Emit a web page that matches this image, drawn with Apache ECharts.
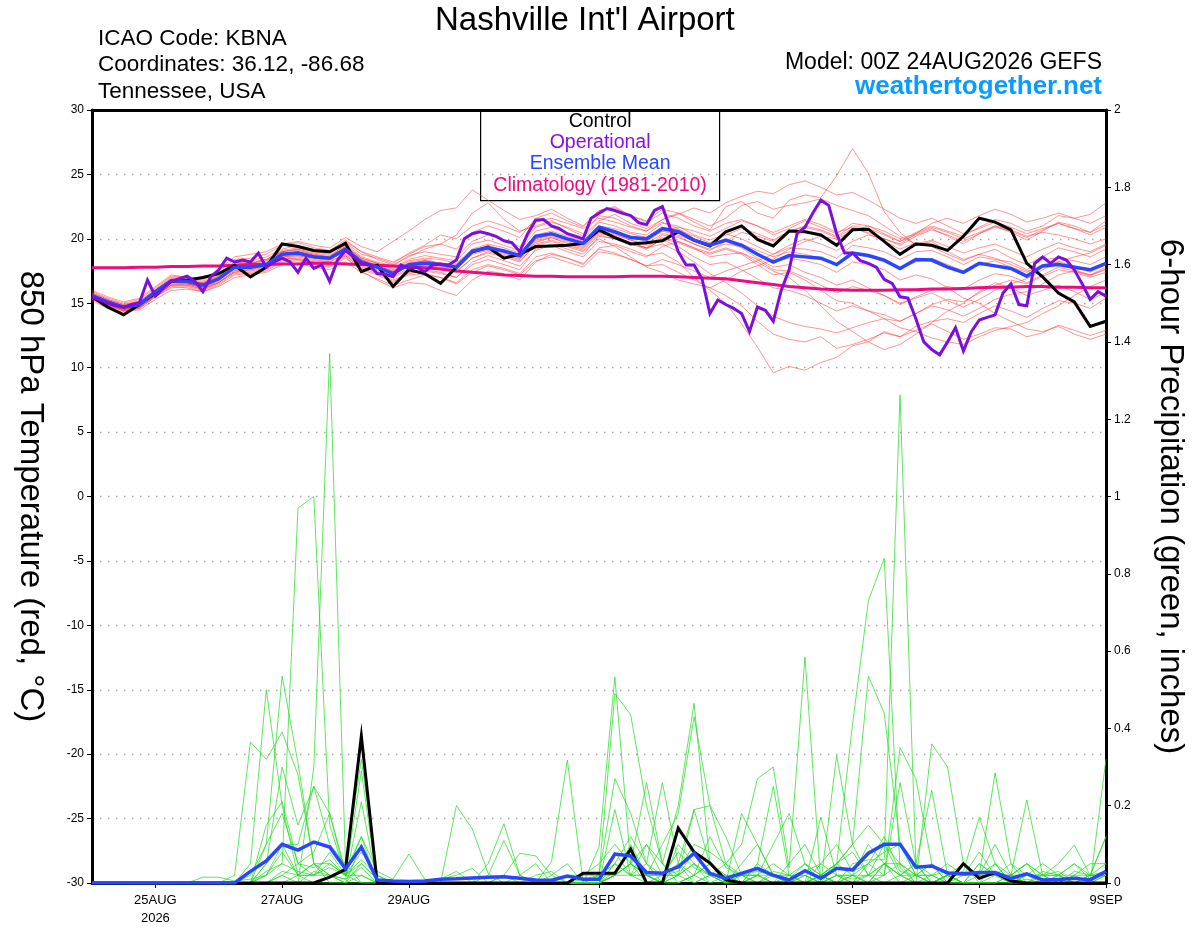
<!DOCTYPE html>
<html>
<head>
<meta charset="utf-8">
<title>Nashville Int'l Airport - GEFS</title>
<script src="https://cdn.jsdelivr.net/npm/echarts@6/dist/echarts.min.js"></script>
<style>
  html, body { margin: 0; padding: 0; background: #fff; }
  #chart { width: 1200px; height: 927px; }
</style>
</head>
<body>
<div id="chart"></div>
<script>
// x axis: forecast hour from 00Z 24AUG2026, 6-hourly (ensemble) and 3-hourly (operational)
var tickHours = [24, 72, 120, 192, 240, 288, 336, 384];
var tickLabels = ['25AUG\n2026', '27AUG', '29AUG', '1SEP', '3SEP', '5SEP', '7SEP', '9SEP'];

// 850 hPa temperature (C), 6-hourly
var climatology = [17.75,17.75,17.75,17.8, 17.8,17.85,17.85,17.9, 17.9,17.95,18.0,18.0, 18.05,18.05,18.1,18.1,
  18.05,18.0,17.95,17.9, 17.85,17.75,17.65,17.5, 17.4,17.3,17.2,17.15, 17.1,17.1,17.05,17.05,
  17.05,17.05,17.1,17.1, 17.1,17.05,17.0,16.95, 16.9,16.75,16.6,16.45, 16.3,16.2,16.1,16.05,
  16.0,16.0,16.0,16.05, 16.05,16.1,16.1,16.15, 16.2,16.25,16.25,16.3, 16.3,16.25,16.25,16.2, 16.2];
var controlT = [15.5,14.7,14.1,14.9, 15.8,16.7,16.8,17.0, 17.3,17.95,17.05,17.8, 19.6,19.4,19.1,19.0,
  19.65,17.45,17.95,16.3, 17.6,17.3,16.55,17.8, 19.0,19.35,18.5,18.8, 19.4,19.45,19.5,19.65,
  20.7,20.1,19.6,19.7, 19.85,20.55,19.9,19.45, 20.55,21.0,19.95,19.45, 20.6,20.55,20.3,19.5,
  20.7,20.75,19.8,18.8, 19.6,19.5,19.1,20.2, 21.6,21.3,20.7,18.1, 17.05,15.8,15.1,13.2, 13.6];
var meanT = [15.6,15.1,14.7,14.9, 15.9,16.75,16.7,16.4, 16.9,17.8,17.8,18.0, 18.8,18.9,18.6,18.5,
  19.2,18.2,17.8,17.3, 18.0,18.1,18.0,17.8, 19.05,19.3,19.05,18.7, 20.2,20.4,20.0,19.65,
  20.9,20.55,20.1,20.0, 20.8,20.55,19.9,19.5, 19.9,19.5,18.8,18.2, 18.7,18.6,18.5,18.0,
  18.9,18.7,18.35,17.7, 18.4,18.35,17.8,17.4, 18.1,17.9,17.7,17.1, 17.9,18.0,17.8,17.6, 18.1];
// operational run, 3-hourly
var operT = [15.5,15.25,15.0,14.8, 14.7,14.9,15.05,16.8, 15.55,16.15,16.7,16.9, 17.1,16.7,15.9,17.05,
  17.6,18.5,18.2,18.35, 18.2,18.9,17.8,18.2, 18.5,18.2,17.4,18.5, 17.7,17.97,16.7,18.35,
  19.1,18.6,18.1,17.97, 17.3,17.25,17.06,17.97, 17.7,17.8,17.45,17.97, 18.05,17.97,18.35,20.0,
  20.4,20.55,20.4,20.2, 19.85,19.7,19.0,20.4, 21.45,21.5,21.0,20.8, 20.4,20.2,20.0,21.6,
  21.98,22.35,22.2,21.98, 21.8,21.25,21.1,22.2, 22.5,20.8,19.0,17.97, 17.97,16.9,14.2,15.25,
  14.9,14.6,14.2,12.8, 14.7,14.45,13.6,16.0, 17.6,20.4,20.9,22.0, 23.0,22.6,20.4,18.9,
  18.9,18.3,18.1,17.8, 16.85,16.55,15.5,15.4, 13.8,12.0,11.4,11.0, 12.0,13.1,11.3,12.8,
  13.7,13.9,14.1,15.8, 16.5,14.9,14.8,18.1, 18.6,18.1,18.6,18.35, 17.6,16.5,15.3,15.9, 15.55];

// ensemble members, temperature
var t01 = [15.8,15.3,14.9,15.2, 16.0,16.9,16.8,16.6, 17.2,18.1,18.3,18.6, 19.2,19.5,19.0,18.9, 19.8,19.0,18.4,18.0, 18.6,19.2,19.6,20.3, 22.0,22.8,21.5,20.6, 21.0,21.4,20.8,20.2, 21.4,21.9,21.2,20.8, 21.5,22.0,21.3,20.7, 22.5,22.9,22.0,21.6, 23.0,23.4,23.2,24.9, 27.0,25.1,22.1,20.5, 19.5,19.8,19.0,18.4, 18.8,19.2,18.5,18.0, 18.6,19.3,19.0,18.6, 19.2];
var t02 = [15.4,14.9,14.5,14.7, 15.6,16.4,16.5,16.2, 16.7,17.4,17.6,17.9, 18.5,18.4,18.2,18.0, 18.7,17.8,17.4,16.8, 17.3,17.6,17.4,17.0, 18.2,18.7,18.3,17.9, 19.1,19.5,19.0,18.6, 19.8,19.6,19.2,18.7, 18.9,18.2,17.0,16.0, 15.0,13.4,11.6,9.6, 10.1,9.8,10.4,10.8, 11.7,12.0,12.8,12.4, 13.2,13.6,13.8,13.5, 14.2,14.8,14.4,13.9, 14.6,15.2,15.0,14.6, 15.4];
var t03 = [15.2,14.6,14.3,14.5, 15.3,16.0,16.1,15.9, 16.3,17.0,17.2,17.4, 18.0,18.1,17.8,17.6, 18.2,17.4,16.9,16.4, 16.8,17.2,17.0,16.5, 17.4,17.9,17.6,17.2, 18.3,18.6,18.2,17.8, 19.0,18.8,18.4,17.9, 18.0,17.4,16.8,16.2, 15.6,14.8,13.6,12.6, 12.2,12.0,12.4,11.5, 11.8,12.2,12.7,12.4, 12.9,13.4,12.8,12.2, 12.6,13.1,13.0,12.4, 12.7,13.3,12.9,12.5, 12.9];
var t04 = [16.0,15.5,15.1,15.4, 16.3,17.2,17.0,16.9, 17.6,18.6,18.8,19.0, 19.6,19.8,19.5,19.3, 20.1,19.4,19.0,19.8, 20.6,21.5,22.2,22.4, 23.8,23.0,22.2,21.5, 21.8,22.3,21.6,21.0, 22.2,22.5,21.8,21.3, 22.0,21.6,21.0,20.6, 21.2,21.5,21.0,20.3, 20.8,21.4,20.9,20.4, 21.2,21.0,20.4,19.8, 20.3,20.8,20.2,19.6, 20.4,21.0,20.5,19.9, 20.6,21.3,21.0,20.5, 21.4];
var t05 = [15.7,15.2,14.8,15.1, 16.1,17.0,16.9,16.7, 17.3,18.2,18.1,18.4, 19.0,19.2,18.9,18.7, 19.5,18.5,18.1,17.7, 18.4,18.7,18.5,18.3, 19.6,19.9,19.5,19.1, 20.6,20.9,20.4,20.0, 21.3,21.0,20.5,20.3, 21.2,21.0,20.3,19.9, 20.4,20.0,19.4,18.8, 19.3,19.2,19.0,18.5, 19.5,19.3,19.0,18.4, 19.0,19.1,18.6,18.0, 18.6,18.4,18.2,17.6, 18.4,18.5,18.3,18.0, 18.6];
var t06 = [15.3,14.8,14.4,14.6, 15.5,16.3,16.2,15.9, 16.4,17.2,17.3,17.5, 18.2,18.3,18.0,17.8, 18.5,17.6,17.2,16.6, 17.4,17.5,17.3,17.0, 18.0,18.4,18.0,17.6, 19.2,19.6,19.2,18.8, 20.2,20.0,19.6,19.3, 20.3,20.1,19.6,19.1, 19.8,20.5,20.2,19.8, 20.6,21.0,20.7,20.2, 21.0,20.8,20.3,19.8, 20.5,21.0,20.6,20.2, 20.9,21.5,21.2,20.6, 21.0,21.8,21.6,21.9, 22.8];
var t07 = [15.5,15.0,14.6,14.8, 15.8,16.6,16.6,16.3, 16.8,17.7,17.8,18.0, 18.7,18.8,18.5,18.4, 19.0,18.1,17.7,17.2, 17.9,18.1,17.9,17.6, 18.8,19.1,18.8,18.4, 19.8,20.1,19.7,19.3, 20.5,20.3,19.9,19.6, 20.4,20.2,19.6,19.2, 19.6,19.4,18.8,18.2, 18.5,18.3,18.0,17.4, 18.2,18.0,17.6,16.8, 17.2,16.9,16.2,15.4, 15.0,14.2,13.6,13.0, 12.8,13.2,12.6,12.2, 12.6];
var t08 = [15.9,15.4,15.0,15.3, 16.2,17.1,17.0,16.8, 17.5,18.4,18.5,18.8, 19.5,19.7,19.3,19.1, 19.9,19.0,18.6,18.2, 18.8,19.4,19.6,19.2, 20.5,21.0,20.6,20.1, 21.6,22.0,21.4,20.9, 22.2,22.4,21.8,21.4, 22.3,22.0,21.5,21.0, 21.6,22.6,22.9,22.3, 22.6,22.8,23.1,22.6, 22.2,21.8,21.0,20.2, 19.6,19.9,19.4,18.9, 19.3,19.6,19.1,18.6, 19.2,19.7,19.3,19.0, 19.6];
var t09 = [15.6,15.1,14.7,14.9, 15.9,16.7,16.6,16.4, 16.9,17.9,18.0,18.2, 18.9,19.0,18.7,18.5, 19.3,18.3,17.9,17.4, 18.1,18.3,18.0,17.7, 18.9,19.3,19.0,18.5, 19.9,20.2,19.8,19.4, 20.5,20.2,19.7,19.3, 19.9,19.4,18.6,18.0, 18.2,17.6,16.9,16.2, 16.0,15.6,15.0,14.4, 14.8,14.4,14.1,13.6, 14.2,14.8,14.5,14.0, 14.6,15.3,15.7,15.9, 16.5,17.2,17.5,17.2, 17.8];
var t10 = [15.4,14.9,14.4,14.6, 15.5,16.2,16.3,16.0, 16.5,17.3,17.4,17.6, 18.3,18.4,18.1,17.9, 18.6,17.5,16.8,16.2, 16.6,16.5,16.0,15.6, 16.8,17.5,17.3,16.8, 18.2,18.8,18.5,18.0, 19.3,19.5,19.0,18.6, 19.4,19.8,19.3,18.6, 18.8,18.9,18.4,17.6, 17.5,17.0,16.4,15.8, 16.3,16.0,15.6,14.9, 15.5,16.0,16.3,16.1, 16.8,17.3,17.1,16.6, 17.2,17.8,17.5,17.1, 17.7];
var t11 = [15.8,15.3,14.9,15.1, 16.0,16.8,16.7,16.6, 17.1,18.0,18.2,18.4, 19.1,19.3,19.0,18.8, 19.7,18.8,18.5,18.1, 18.9,19.5,20.3,20.0, 21.0,21.4,21.0,20.5, 21.3,21.6,21.2,20.8, 21.6,21.3,20.9,20.6, 21.5,21.9,22.4,22.0, 22.8,23.3,23.7,23.5, 24.2,24.5,24.0,23.4, 23.6,23.0,22.3,21.6, 21.2,21.6,21.0,20.4, 20.8,21.3,20.9,20.4, 20.8,21.2,20.8,20.5, 21.1];
var t12 = [15.5,15.0,14.6,14.9, 15.7,16.5,16.5,16.2, 16.6,17.5,17.6,17.8, 18.5,18.6,18.3,18.2, 18.8,17.9,17.5,17.0, 17.6,17.9,17.7,17.4, 18.5,18.9,18.6,18.2, 19.6,19.9,19.5,19.1, 20.3,20.0,19.6,19.2, 20.0,19.7,19.2,18.8, 19.2,18.8,18.0,17.2, 17.4,16.8,16.0,15.2, 15.0,14.4,13.8,13.1, 12.8,12.3,12.0,11.8, 12.4,12.9,13.2,13.5, 14.2,14.8,15.6,16.3, 16.8];
var t13 = [15.6,15.1,14.6,14.9, 15.9,16.8,16.7,16.5, 17.0,17.9,18.0,18.1, 18.8,19.0,18.7,18.6, 19.4,18.4,18.0,17.5, 18.2,18.4,18.1,18.0, 19.1,19.5,19.1,18.8, 20.1,20.4,20.0,19.6, 20.8,20.6,20.2,19.9, 20.6,20.3,19.8,19.4, 19.9,19.6,19.1,18.6, 19.0,18.8,18.5,18.0, 18.8,18.6,18.2,17.7, 18.2,18.5,18.0,17.5, 18.0,18.3,17.8,17.4, 18.0,18.2,17.9,17.4, 18.0];
var t14 = [15.3,14.8,14.4,14.7, 15.6,16.4,16.4,16.1, 16.6,17.5,17.7,17.9, 18.6,18.7,18.4,18.2, 18.9,18.0,17.6,17.1, 17.7,18.0,17.8,17.5, 18.5,19.0,18.7,18.3, 19.5,19.8,19.4,19.0, 20.0,19.4,18.6,17.8, 17.4,16.8,16.5,16.2, 16.8,17.5,17.9,18.4, 19.2,19.8,20.2,20.0, 20.6,21.0,20.6,20.0, 20.4,20.9,20.5,20.0, 20.5,21.0,20.7,20.2, 20.5,20.3,20.0,19.6, 20.0];
var t15 = [15.4,14.9,14.5,14.8, 15.7,16.6,16.5,16.3, 16.8,17.6,17.8,17.9, 18.6,18.7,18.5,18.3, 19.1,18.2,17.8,17.3, 17.9,18.2,18.1,17.9, 18.9,19.2,18.9,18.5, 19.7,20.1,19.6,19.2, 20.4,20.2,19.7,19.3, 19.6,19.0,18.2,17.3, 16.6,15.8,14.8,14.0, 13.5,13.2,13.0,12.7, 13.1,13.5,13.8,13.6, 14.2,14.9,15.3,15.1, 15.8,16.4,16.8,16.5, 17.1,17.6,17.4,17.0, 17.4];
var t16 = [15.7,15.2,14.8,15.0, 16.0,16.9,16.8,16.5, 17.1,18.0,18.1,18.3, 19.0,19.1,18.8,18.6, 19.4,18.5,18.1,17.6, 18.3,18.5,18.4,18.1, 19.2,19.6,19.3,18.9, 20.3,20.6,20.2,19.8, 21.0,20.8,20.4,20.1, 20.9,20.7,20.2,19.7, 20.3,20.8,20.4,19.9, 20.6,20.9,20.6,20.1, 20.8,20.5,20.0,19.6, 20.4,21.2,21.6,21.2, 21.8,22.3,21.9,21.3, 21.6,22.0,21.6,21.2, 21.8];
var t17 = [15.6,15.0,14.6,14.8, 15.8,16.7,16.7,16.4, 17.0,17.9,18.1,18.3, 19.0,19.2,18.8,18.6, 19.6,18.6,18.2,17.9, 18.7,19.0,18.8,18.6, 19.8,20.3,19.9,19.4, 20.9,21.3,20.9,20.4, 21.8,21.6,21.0,20.6, 21.3,20.8,20.0,19.4, 19.8,19.3,18.5,17.8, 18.0,17.4,17.0,16.4, 16.8,16.2,15.6,15.0, 15.4,15.8,15.2,14.7, 15.3,16.0,16.5,16.9, 17.6,18.2,18.6,18.9, 19.5];
var t18 = [15.4,14.9,14.5,14.7, 15.6,16.4,16.4,16.1, 16.6,17.4,17.5,17.7, 18.4,18.5,18.2,18.0, 18.7,17.7,17.3,16.7, 17.2,17.3,17.0,16.6, 17.6,18.0,17.7,17.3, 18.6,18.9,18.5,18.1, 19.2,18.9,18.4,17.9, 18.4,18.0,17.5,17.0, 17.5,17.9,18.3,18.8, 19.5,20.0,19.6,19.1, 19.8,20.3,20.0,19.5, 20.2,20.7,20.3,19.8, 20.4,20.9,20.6,20.1, 20.7,21.2,20.8,20.3, 20.9];
var t19 = [15.5,15.0,14.5,14.8, 15.7,16.6,16.6,16.3, 16.8,17.7,17.9,18.1, 18.7,18.9,18.6,18.4, 19.2,18.3,17.9,17.4, 18.0,18.3,18.1,17.8, 19.0,19.4,19.1,18.6, 20.0,20.3,19.9,19.5, 20.6,20.4,19.9,19.5, 20.1,19.8,19.3,18.9, 19.3,18.9,18.2,17.5, 17.0,16.0,14.8,13.6, 12.8,12.0,11.4,11.8, 12.6,13.5,14.4,15.0, 15.9,16.6,16.2,15.6, 16.0,16.4,15.9,15.3, 15.8];
var t20 = [15.6,15.1,14.7,15.0, 15.9,16.8,16.8,16.5, 17.0,17.8,17.9,18.1, 18.8,19.0,18.7,18.5, 19.3,18.4,17.9,17.5, 18.1,18.3,18.1,17.8, 19.0,19.3,19.0,18.6, 20.0,20.4,20.0,19.6, 20.7,20.5,20.1,19.8, 20.6,20.9,20.6,20.2, 20.8,21.4,21.0,20.5, 21.0,21.5,21.1,20.5, 20.9,20.4,19.8,19.2, 19.7,19.4,18.8,18.3, 18.8,18.5,18.0,17.5, 17.8,18.1,17.6,17.2, 17.6];

// 6-hour precipitation (inches), 6-hourly
var controlP = [0,0,0,0, 0,0,0,0, 0,0,0,0, 0,0,0,0.015, 0.035,0.38,0,0, 0,0,0,0, 0,0,0,0, 0,0,0,0.025,
  0.025,0.025,0.088,0, 0,0.142,0.08,0.052, 0.008,0,0,0, 0,0,0,0, 0,0,0,0, 0,0,0,0.05, 0.012,0.027,0.005,0, 0,0,0,0, 0];
var meanP = [0,0,0,0, 0,0,0,0, 0,0,0.03,0.057, 0.10,0.085,0.106,0.093, 0.037,0.093,0.008,0.005, 0.004,0.005,0.01,0.011,
  0.013,0.015,0.016,0.012, 0.008,0.007,0.018,0.01, 0.01,0.075,0.07,0.027, 0.025,0.042,0.077,0.025,
  0.012,0.025,0.038,0.02, 0.008,0.032,0.012,0.038, 0.034,0.077,0.10,0.10, 0.041,0.044,0.026,0.024,
  0.027,0.027,0.012,0.024, 0.008,0.009,0.012,0.008, 0.03];

// ensemble members, precipitation
var p01 = [0,0,0,0, 0,0,0,0, 0,0.02,0.365,0.32, 0.39,0.28,0.05,0.02, 0,0.05,0.01,0, 0,0,0,0.2, 0.14,0.025,0,0, 0,0,0,0.01, 0.02,0.27,0.18,0.05, 0,0.02,0.19,0.2, 0.12,0.02,0,0, 0.01,0.05,0,0.33, 0.1,0.02,0,0.02, 0,0.36,0.3,0.05, 0,0.02,0.01,0, 0,0,0,0, 0.02];
var p02 = [0,0,0,0, 0,0,0,0, 0,0,0.05,0.5, 0.2,0.02,0,0, 0,0.02,0,0, 0,0,0.01,0.03, 0,0,0,0, 0,0.02,0.05,0, 0.093,0.533,0.05,0, 0,0,0.02,0.05, 0,0,0.02,0, 0,0.02,0,0.05, 0.41,0.73,0.84,0.04, 0,0.02,0,0, 0.05,0.02,0,0, 0,0.01,0,0, 0];
var p03 = [0,0,0,0, 0,0,0,0, 0,0,0,0.1, 0.535,0.31,0.05,0, 0,0,0,0, 0,0,0,0, 0,0,0.02,0, 0,0,0,0, 0,0.05,0.02,0.1, 0.05,0.2,0.465,0.05, 0,0,0,0.02, 0,0,0.02,0, 0.05,0.06,0.06,1.263, 0.05,0,0.02,0, 0,0,0,0.01, 0,0,0,0, 0];
var p04 = [0,0,0,0, 0,0,0,0, 0,0,0,0.02, 0.05,0.97,1.0,0.15, 0.02,0,0,0, 0,0,0,0, 0,0,0,0, 0.02,0.03,0,0, 0.02,0.49,0.435,0.2, 0.05,0,0.02,0, 0,0,0.05,0.02, 0,0,0.02,0.05, 0.1,0.535,0.44,0.1, 0.02,0,0,0, 0,0,0,0, 0,0,0.02,0, 0];
var p05 = [0,0,0,0, 0,0,0,0, 0,0,0,0, 0,0,0.3,1.37, 0.05,0,0,0, 0,0,0,0, 0,0,0,0, 0,0.055,0.318,0, 0,0.02,0.05,0.02, 0.1,0.18,0.43,0.2, 0.05,0,0,0, 0.02,0.05,0.02,0, 0,0.05,0.02,0.35, 0.27,0.05,0,0, 0,0,0.02,0.215, 0.02,0,0,0, 0];
var p06 = [0,0,0,0, 0,0,0,0, 0,0,0,0.05, 0.30,0.15,0.25,0.10, 0.05,0.32,0.02,0, 0,0,0,0, 0,0.05,0.153,0.02, 0,0,0,0, 0,0.02,0.05,0.26, 0.05,0.02,0,0.02, 0.05,0.1,0.27,0.30, 0.04,0.585,0,0.02, 0,0,0.02,0.05, 0,0,0.02,0, 0,0.05,0,0, 0,0,0,0.02, 0.12];
var p07 = [0,0,0,0, 0,0,0,0, 0,0,0,0.15, 0.21,0.05,0.08,0.18, 0.02,0.29,0,0, 0,0,0,0, 0,0,0.02,0.077, 0.07,0.02,0,0, 0,0.19,0.02,0.05, 0.26,0.05,0,0.02, 0,0.18,0.1,0.02, 0.02,0,0.17,0.02, 0,0.02,0.02,0.26, 0.05,0.24,0.02,0, 0,0,0.02,0, 0.03,0.02,0,0, 0.32];
var p08 = [0,0,0,0, 0,0,0,0.015, 0.015,0.005,0.01,0.02, 0.1,0.02,0.05,0.05, 0.02,0.12,0.03,0.01, 0.075,0.01,0,0, 0,0.02,0.11,0.02, 0,0,0,0, 0.02,0.02,0.1,0.02, 0,0.05,0.02,0.05, 0.02,0,0.02,0.1, 0.18,0.05,0.02,0, 0.02,0,0.05,0.02, 0,0,0.02,0.03, 0.17,0.05,0,0.02, 0.02,0.05,0.098,0.02, 0.05];
var p09 = [0,0,0,0, 0,0,0,0, 0,0,0,0.02, 0.08,0.02,0.05,0.02, 0,0.1,0,0, 0,0,0.01,0.02, 0.038,0,0,0, 0,0,0,0, 0,0.05,0.02,0.02, 0,0.1,0.05,0, 0.02,0,0.05,0.25, 0.02,0,0.02,0.05, 0.02,0.1,0.05,0, 0.02,0.05,0,0.05, 0.02,0.285,0.05,0, 0,0.02,0.05,0.01, 0.02];
var p10 = [0,0,0,0, 0,0,0,0, 0,0,0,0, 0.03,0.02,0.02,0.05, 0.02,0.05,0.01,0, 0,0,0,0, 0,0,0,0, 0,0,0.02,0.02, 0.05,0.1,0.05,0.02, 0.02,0.02,0.08,0.02, 0,0.02,0.02,0.02, 0,0,0.02,0.05, 0.1,0.15,0.1,0.05, 0.02,0.02,0.05,0.02, 0.02,0.05,0.02,0.02, 0,0,0.02,0.05, 0.05];
var p11 = [0,0,0,0, 0,0,0,0, 0,0,0,0.05, 0.1,0.1,0.25,0.18, 0.03,0.12,0,0, 0,0,0,0, 0,0,0,0.02, 0.05,0,0,0, 0,0.02,0.05,0.1, 0.02,0.05,0.19,0.05, 0.02,0,0.02,0, 0.05,0.1,0.02,0.05, 0.08,0.02,0.1,0.02, 0.05,0,0.02,0, 0.05,0.02,0.02,0.05, 0.02,0.02,0.05,0.02, 0.02];
var p12 = [0,0,0,0, 0,0,0,0, 0,0,0.02,0.1, 0.18,0.05,0.02,0.02, 0.01,0.04,0,0, 0,0,0,0, 0,0,0,0, 0,0,0,0.02, 0.02,0.05,0.12,0.05, 0.02,0.02,0.05,0.02, 0,0.05,0.1,0.02, 0,0.03,0.05,0.02, 0.02,0.05,0.12,0.03, 0.02,0.05,0.02,0, 0.02,0.02,0,0.02, 0.05,0.02,0,0, 0.02];
var p13 = [0,0,0,0, 0,0,0,0, 0,0,0,0, 0.02,0.05,0.04,0.06, 0.02,0.08,0.02,0, 0,0,0,0, 0,0,0,0, 0,0,0,0, 0,0.08,0.02,0, 0.02,0.03,0.1,0.08, 0.05,0.02,0,0.03, 0.02,0,0.05,0.1, 0.03,0.05,0.08,0.1, 0.02,0.02,0,0.02, 0.08,0.02,0.02,0, 0.02,0.03,0,0.02, 0.02];
var p14 = [0,0,0,0, 0,0,0,0, 0,0,0,0.03, 0.05,0.03,0.02,0.08, 0.02,0.02,0,0, 0,0,0,0, 0,0,0,0, 0,0,0,0, 0,0.03,0.08,0.02, 0,0,0.02,0.12, 0.04,0.02,0.03,0.02, 0,0.02,0,0.02, 0.02,0.02,0.05,0.02, 0.05,0.02,0.03,0.02, 0.02,0.1,0.02,0.05, 0.02,0,0.03,0.02, 0.03];
var p15 = [0,0,0,0, 0,0,0,0, 0,0,0,0, 0,0.02,0.02,0.04, 0.02,0.06,0.02,0, 0,0,0,0, 0,0,0,0, 0,0,0,0, 0,0.02,0.05,0.02, 0.02,0.08,0.04,0.02, 0,0.02,0.02,0.05, 0.02,0.02,0,0.02, 0.01,0.02,0.05,0.05, 0.02,0,0.02,0.05, 0.02,0.02,0.05,0.02, 0.02,0.02,0,0.02, 0.02];
var p16 = [0,0,0,0, 0,0,0,0, 0,0,0,0, 0.02,0,0.03,0.02, 0.01,0.21,0,0, 0,0,0,0, 0,0,0,0, 0,0,0,0, 0,0.02,0.02,0.02, 0,0.02,0.05,0.02, 0.02,0.02,0.02,0, 0,0,0.02,0, 0.02,0,0.05,0.02, 0.02,0,0.02,0.02, 0.02,0.02,0.02,0.05, 0,0.02,0.02,0.02, 0.12];

var tempMembers = [t01, t02, t03, t04, t05, t06, t07, t08, t09, t10, t11, t12, t13, t14, t15, t16, t17, t18, t19, t20];
var precipMembers = [p01, p02, p03, p04, p05, p06, p07, p08, p09, p10, p11, p12, p13, p14, p15, p16];

var FONT = 'Liberation Sans, Arial, Helvetica, sans-serif';

function pairs(arr, step) {
  return arr.map(function (v, i) { return [i * step, v]; });
}

function line(name, data, color, width, yIdx, z) {
  return {
    name: name, type: 'line', data: data, yAxisIndex: yIdx,
    symbol: 'none', silent: true, z: z,
    lineStyle: { color: color, width: width, join: 'miter' }
  };
}

var series = [];
tempMembers.forEach(function (m, k) {
  series.push(line('T member ' + (k + 1), pairs(m, 6), 'rgba(255,50,50,0.65)', 0.8, 0, 1));
});
precipMembers.forEach(function (m, k) {
  series.push(line('P member ' + (k + 1), pairs(m, 6), 'rgba(30,220,30,0.9)', 0.8, 1, 1));
});
series.push(line('Climatology (1981-2010)', pairs(climatology, 6), '#ee0a80', 3, 0, 3));
series.push(line('Control', pairs(controlT, 6), '#000000', 3, 0, 4));
series.push(line('Control precip', pairs(controlP, 6), '#000000', 3, 1, 4));
series.push(line('Ensemble Mean', pairs(meanT, 6), '#2846ff', 3.5, 0, 5));
series.push(line('Ensemble Mean precip', pairs(meanP, 6), '#2846ff', 3.5, 1, 5));
series.push(line('Operational', pairs(operT, 3), '#7b10dc', 3, 0, 6));

var chart = echarts.init(document.getElementById('chart'));

var option = {
  animation: false,
  backgroundColor: '#ffffff',
  textStyle: { fontFamily: FONT },
  title: {
    text: "Nashville Int'l Airport",
    left: 430, top: -1,
    textStyle: { fontSize: 33, fontWeight: 'normal', color: '#000', fontFamily: FONT }
  },
  grid: { left: 92, right: 94, top: 110, bottom: 44 },
  xAxis: [
    {
      type: 'value', min: 0, max: 384, position: 'bottom',
      axisLine: { show: true, onZero: false, lineStyle: { color: '#000', width: 3 } },
      axisTick: { show: true, customValues: tickHours, length: 5, lineStyle: { color: '#000', width: 1 } },
      axisLabel: {
        customValues: tickHours,
        color: '#000', fontSize: 13, margin: 8, lineHeight: 18, fontFamily: FONT,
        formatter: function (v) {
          var k = tickHours.indexOf(Math.round(v));
          return k >= 0 ? tickLabels[k] : '';
        }
      },
      splitLine: { show: false }
    },
    {
      // plain frame line along the top of the plot
      type: 'value', min: 0, max: 384, position: 'top',
      axisLine: { show: true, onZero: false, lineStyle: { color: '#000', width: 3 } },
      axisTick: { show: false }, axisLabel: { show: false }, splitLine: { show: false }
    }
  ],
  yAxis: [
    {
      type: 'value', min: -30, max: 30, interval: 5, position: 'left',
      name: '850 hPa Temperature (red, °C)',
      nameLocation: 'middle', nameGap: 45, nameRotate: -90,
      nameTextStyle: { fontSize: 33, color: '#000', fontFamily: FONT },
      axisLine: { show: true, onZero: false, lineStyle: { color: '#000', width: 3 } },
      axisTick: { show: true, length: 5, lineStyle: { color: '#000' } },
      axisLabel: { color: '#000', fontSize: 12, margin: 8, fontFamily: FONT },
      splitLine: { show: true, lineStyle: { color: '#a8a8a8', width: 1.3, type: [1.5, 6.5] } }
    },
    {
      type: 'value', min: 0, max: 2, interval: 0.2, position: 'right',
      name: '6-hour Precipitation (green, inches)',
      nameLocation: 'middle', nameGap: 48, nameRotate: -90,
      nameTextStyle: { fontSize: 33, color: '#000', fontFamily: FONT },
      axisLine: { show: true, onZero: false, lineStyle: { color: '#000', width: 3 } },
      axisTick: { show: true, length: 5, lineStyle: { color: '#000' } },
      axisLabel: { color: '#000', fontSize: 12, margin: 8, fontFamily: FONT },
      splitLine: { show: false }
    }
  ],
  graphic: [
    { type: 'text', left: 98, top: 27, style: { text: 'ICAO Code: KBNA', fill: '#000', font: '22.5px ' + FONT } },
    { type: 'text', left: 98, top: 53, style: { text: 'Coordinates: 36.12, -86.68', fill: '#000', font: '22.5px ' + FONT } },
    { type: 'text', left: 98, top: 80, style: { text: 'Tennessee, USA', fill: '#000', font: '22.5px ' + FONT } },
    { type: 'text', right: 98, top: 51, style: { text: 'Model: 00Z 24AUG2026 GEFS', fill: '#000', font: '23px ' + FONT } },
    { type: 'text', right: 98, top: 74, style: { text: 'weathertogether.net', fill: '#0a9bff', font: 'bold 26px ' + FONT } },
    {
      type: 'group', left: 480, top: 109, z: 50,
      children: [
        { type: 'rect', shape: { x: 0, y: 0, width: 239, height: 91 }, style: { fill: '#fff', stroke: '#000', lineWidth: 1.2 } },
        { type: 'text', x: 119.5, y: 12, style: { text: 'Control', fill: '#000', font: '19.5px ' + FONT, align: 'center', verticalAlign: 'middle' } },
        { type: 'text', x: 119.5, y: 33, style: { text: 'Operational', fill: '#8a10dc', font: '19.5px ' + FONT, align: 'center', verticalAlign: 'middle' } },
        { type: 'text', x: 119.5, y: 54, style: { text: 'Ensemble Mean', fill: '#2846ff', font: '19.5px ' + FONT, align: 'center', verticalAlign: 'middle' } },
        { type: 'text', x: 119.5, y: 76, style: { text: 'Climatology (1981-2010)', fill: '#ee0a80', font: '19.5px ' + FONT, align: 'center', verticalAlign: 'middle' } }
      ]
    }
  ],
  series: series
};

chart.setOption(option);
</script>
</body>
</html>
